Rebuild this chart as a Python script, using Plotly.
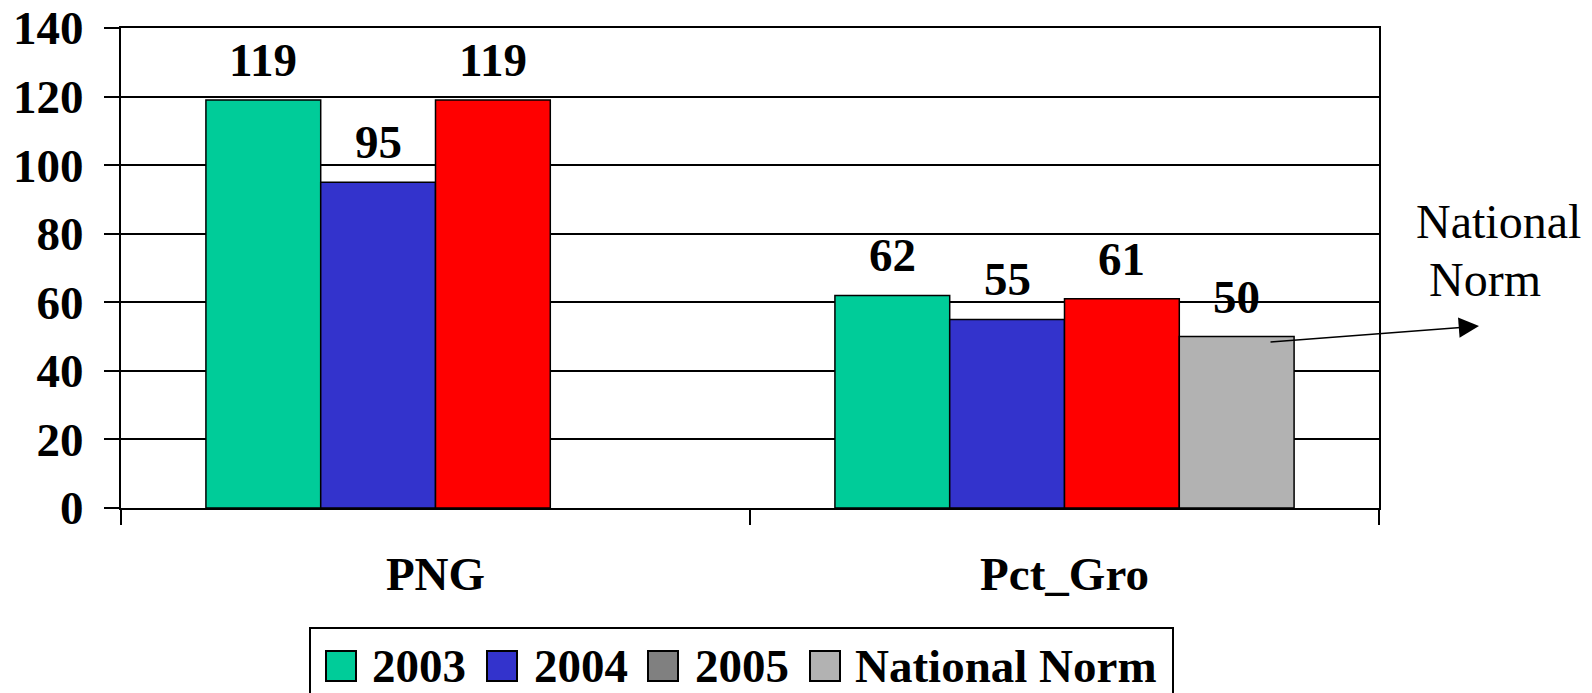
import plotly.graph_objects as go

categories = ["PNG", "Pct_Gro"]
series_names = ["2003", "2004", "2005", "National Norm"]
values_2003 = [119, 62]
values_2004 = [95, 55]
values_2005 = [119, 61]
values_norm = [None, 50]
bar_colors = ["#00CC99", "#3333CC", "#FF0000", "#B2B2B2"]
legend_colors = ["#00CC99", "#3333CC", "#808080", "#B2B2B2"]
y_ticks = [0, 20, 40, 60, 80, 100, 120, 140]
callout_lines = ["National", "Norm"]

FONT = "Liberation Serif, Times New Roman, serif"
FS = 47
BARGAP = 0.27

# page geometry (browser body has an 8px margin)
PAGE_OFF = 8
W, H = 1592 - PAGE_OFF, 693 - PAGE_OFF
PL, PR, PT, PB = 121, 1379, 28, 508   # plot area in window pixels


def px_x(x):
    return (x - PL) / (PR - PL)


def px_y(y):
    return (PB - y) / (PB - PT)


all_values = [values_2003, values_2004, values_2005, values_norm]

fig = go.Figure()
for i, (name, vals) in enumerate(zip(series_names, all_values)):
    fig.add_trace(go.Bar(
        x=categories, y=vals, name=name, showlegend=False,
        offsetgroup=str(i),
        marker=dict(color=bar_colors[i], line=dict(color="black", width=1.5)),
    ))

# value labels above bars
n = len(series_names)
w = (1 - BARGAP) / n
annotations = []
for i, vals in enumerate(all_values):
    for c, v in enumerate(vals):
        if v is None:
            continue
        xc = c - (1 - BARGAP) / 2 + (i + 0.5) * w
        annotations.append(dict(
            x=xc, y=v, xref="x", yref="y", text=str(v), showarrow=False,
            yanchor="middle", yshift=40,
            font=dict(family=FONT, size=FS, color="black", weight="bold"),
        ))

# National Norm callout
annotations.append(dict(
    x=px_x(1479), y=px_y(326), xref="paper", yref="paper", text="",
    showarrow=True, ax=1269 - 1479, ay=342 - 326, arrowhead=2, arrowsize=2.7,
    arrowwidth=1.5, arrowcolor="black", standoff=0,
))
callout_pos = [(1498, 221), (1485, 279)]
for line, (cx, cy) in zip(callout_lines, callout_pos):
    annotations.append(dict(
        x=px_x(cx), y=px_y(cy), xref="paper", yref="paper",
        text=line, showarrow=False, xanchor="center", yanchor="middle",
        font=dict(family=FONT, size=48, color="black"),
    ))

# legend drawn as shapes + texts (swatch colours differ from bar colours)
shapes = [dict(
    type="rect", xref="paper", yref="paper",
    x0=px_x(310), x1=px_x(1173), y0=px_y(628), y1=px_y(720),
    line=dict(color="black", width=2), fillcolor="rgba(0,0,0,0)", layer="above",
)]
swatch_x = [326, 487, 648, 810]
text_x = [370, 532, 693, 853]
for i, name in enumerate(series_names):
    shapes.append(dict(
        type="rect", xref="paper", yref="paper",
        x0=px_x(swatch_x[i]), x1=px_x(swatch_x[i] + 30),
        y0=px_y(681), y1=px_y(651),
        line=dict(color="black", width=2), fillcolor=legend_colors[i],
        layer="above",
    ))
    annotations.append(dict(
        x=px_x(text_x[i]), y=px_y(666), xref="paper", yref="paper",
        text=name, showarrow=False, xanchor="left", yanchor="middle",
        font=dict(family=FONT, size=FS, color="black", weight="bold"),
    ))

fig.update_layout(
    width=W, height=H,
    margin=dict(l=PL - PAGE_OFF, r=W - (PR - PAGE_OFF), t=PT - PAGE_OFF,
                b=H - (PB - PAGE_OFF), autoexpand=False),
    paper_bgcolor="white", plot_bgcolor="white",
    barmode="group", bargap=BARGAP, bargroupgap=0,
    showlegend=False,
    font=dict(family=FONT, size=FS, color="black"),
    annotations=annotations,
    shapes=shapes,
    xaxis=dict(
        type="category", showline=True, linecolor="black", linewidth=2,
        mirror=True, ticks="outside", tickson="boundaries", ticklen=15,
        tickwidth=2, tickcolor="black", showgrid=False,
        tickfont=dict(family=FONT, size=FS, color="black", weight="bold"),
        ticklabelstandoff=24, ticklabeloverflow="allow",
    ),
    yaxis=dict(
        range=[0, 140], tickvals=y_ticks, showline=True, linecolor="black",
        linewidth=2, mirror=True, ticks="outside", ticklen=15, tickwidth=2,
        tickcolor="black", showgrid=True, gridcolor="black", gridwidth=2,
        zeroline=False,
        tickfont=dict(family=FONT, size=FS, color="black", weight="bold"),
        ticklabelstandoff=11, ticklabeloverflow="allow",
    ),
)

fig.write_html("out.html")
